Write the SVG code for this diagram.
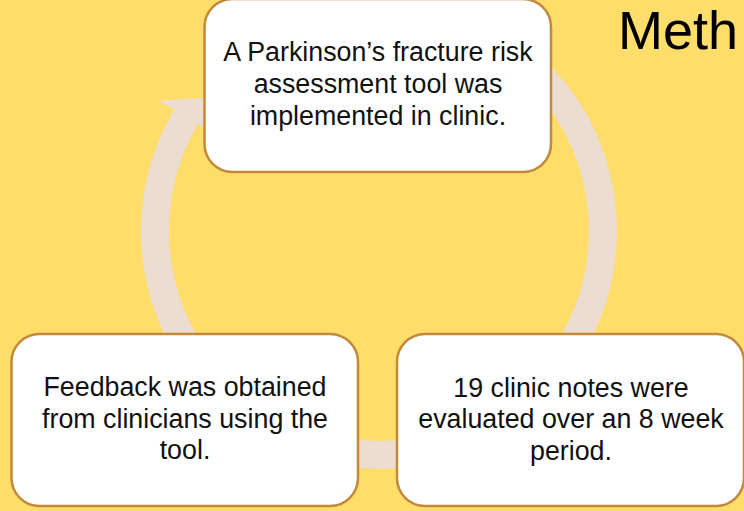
<svg xmlns="http://www.w3.org/2000/svg" width="744" height="511" viewBox="0 0 744 511">
  <defs>
    <style>
      .bg { fill: #FEDD6B; }
      .ring { fill: none; stroke: #ECDDD0; stroke-width: 28; }
      .head { fill: #ECDDD0; }
      .box { fill: #FFFFFF; stroke: #C2893B; stroke-width: 2.5; }
      .lbl { font-family: "Liberation Sans", Arial, sans-serif; font-size: 26.8px; fill: #111111; text-anchor: middle; }
      .title { font-family: "Liberation Sans", Arial, sans-serif; font-size: 54px; fill: #000000; }
    </style>
  </defs>
  <rect class="bg" x="0" y="0" width="744" height="511"/>
  <text class="title" x="618" y="49">Meth</text>
  <g id="connectors">
    <path class="ring" d="M 491 37 A 224 224 0 1 1 186.1 117"/>
    <polygon class="head" points="159,101 225,96 213,133"/>
  </g>
  <g id="node-implement">
    <rect class="box" x="204.5" y="-1" width="346.5" height="173" rx="28" ry="28"/>
    <text class="lbl" x="378" y="61">A Parkinson’s fracture risk</text>
    <text class="lbl" x="378" y="93">assessment tool was</text>
    <text class="lbl" x="378" y="125">implemented in clinic.</text>
  </g>
  <g id="node-evaluate">
    <rect class="box" x="397" y="334" width="347" height="172" rx="28" ry="28"/>
    <text class="lbl" x="571" y="397">19 clinic notes were</text>
    <text class="lbl" x="571" y="428">evaluated over an 8 week</text>
    <text class="lbl" x="571" y="460">period.</text>
  </g>
  <g id="node-feedback">
    <rect class="box" x="11.5" y="334" width="346.5" height="172" rx="28" ry="28"/>
    <text class="lbl" x="185" y="396">Feedback was obtained</text>
    <text class="lbl" x="185" y="428">from clinicians using the</text>
    <text class="lbl" x="185" y="459">tool.</text>
  </g>
</svg>
